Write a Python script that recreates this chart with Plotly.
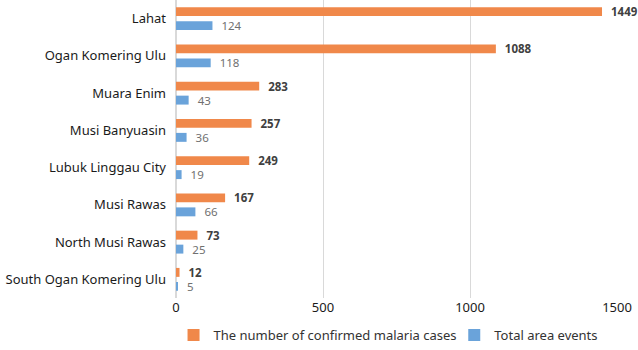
import plotly.graph_objects as go

regions = ["Lahat", "Ogan Komering Ulu", "Muara Enim", "Musi Banyuasin",
           "Lubuk Linggau City", "Musi Rawas", "North Musi Rawas", "South Ogan Komering Ulu"]
malaria_cases = [1449, 1088, 283, 257, 249, 167, 73, 12]
area_events = [124, 118, 43, 36, 19, 66, 25, 5]
x_ticks = [0, 500, 1000, 1500]

FONT = "Noto Sans"

fig = go.Figure()
fig.add_trace(go.Bar(
    y=regions, x=malaria_cases, orientation="h",
    name="The number of confirmed malaria cases",
    marker=dict(color="#F0884A", line=dict(width=0)),
    text=malaria_cases, texttemplate="  %{x}", textposition="outside",
    constraintext="none",
    textfont=dict(family=FONT, size=11.5, color="#404040", weight="bold"),
    cliponaxis=False, legend="legend",
))
fig.add_trace(go.Bar(
    y=regions, x=area_events, orientation="h",
    name="Total area events",
    marker=dict(color="#6AA3DA", line=dict(width=0)),
    text=area_events, texttemplate="  %{x}", textposition="outside",
    constraintext="none",
    textfont=dict(family=FONT, size=11.5, color="#707070"),
    cliponaxis=False, legend="legend2",
))

legend_common = dict(orientation="h", xanchor="left", xref="container",
                     y=-0.018, yanchor="bottom", yref="container",
                     font=dict(family=FONT, size=13, color="#333333"),
                     itemwidth=30, bgcolor="rgba(0,0,0,0)")

fig.update_layout(
    width=638, height=350,
    margin=dict(l=176, r=21, t=0, b=52, autoexpand=False),
    paper_bgcolor="white", plot_bgcolor="white",
    barmode="group", bargap=0.25, bargroupgap=0.36,
    font=dict(family=FONT, size=13, color="#1a1a1a"),
    showlegend=True,
    legend=dict(legend_common, x=0.272),
    legend2=dict(legend_common, x=0.712),
    xaxis=dict(range=[0, 1500], tickvals=x_ticks, showgrid=True,
               gridcolor="#D9D9D9", gridwidth=1, zeroline=True,
               zerolinecolor="#D9D9D9", showline=False, ticks="",
               automargin=False,
               tickfont=dict(family=FONT, size=13, color="#1a1a1a")),
    yaxis=dict(autorange="reversed", showgrid=False, ticks="",
               ticklabelstandoff=9, automargin=False,
               tickfont=dict(family=FONT, size=13, color="#1a1a1a")),
)

fig.write_html(
    "out.html",
    config={"displayModeBar": False},
    post_script="document.body.style.margin='0';document.body.style.overflow='hidden';",
)
